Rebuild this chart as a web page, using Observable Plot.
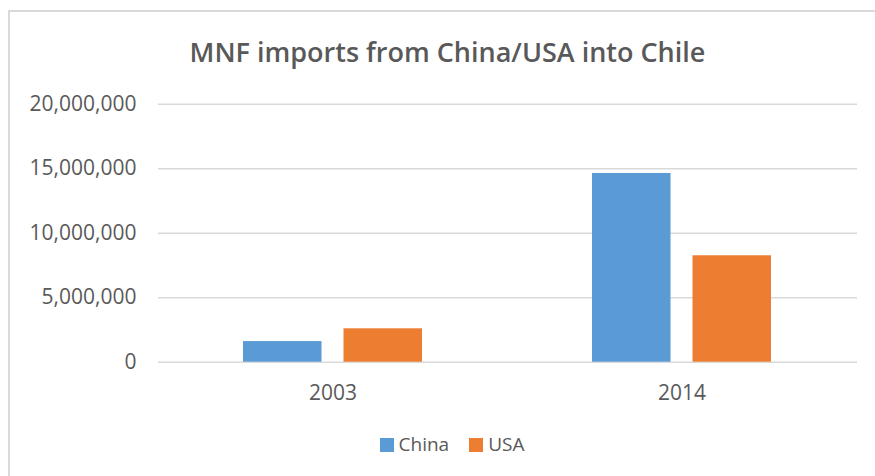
<!DOCTYPE html>
<html>
<head>
<meta charset="utf-8">
<script src="https://cdn.jsdelivr.net/npm/d3@7"></script>
<script src="https://cdn.jsdelivr.net/npm/@observablehq/plot@0.6"></script>
<style>
  html, body { margin: 0; padding: 0; background: #fff; }
  #wrap { position: relative; width: 875px; height: 476px; overflow: hidden; font-family: "Open Sans", sans-serif; color: #595959; }
  #frame { position: absolute; left: 8px; top: 10px; width: 900px; height: 500px; border-left: 2px solid #d9d9d9; border-top: 2px solid #d9d9d9; }
  #title { position: absolute; left: 0; width: 895px; top: 38px; text-align: center; font-size: 27px; font-weight: 600; line-height: 1; }
  #chart { position: absolute; left: 0; top: 85px; }
  #legend { position: absolute; left: 0; width: 904px; top: 435px; display: flex; justify-content: center; align-items: center; font-size: 19px; line-height: 1; }
  .item { display: flex; align-items: center; margin: 0 10px; }
  .sw { width: 14px; height: 14px; margin-right: 5px; }
</style>
</head>
<body>
<div id="wrap">
  <div id="frame"></div>
  <div id="title">MNF imports from China/USA into Chile</div>
  <div id="chart"></div>
  <div id="legend"></div>
</div>
<script>
const years = ["2003", "2014"];
const seriesNames = ["China", "USA"];
const chinaValues = [1600000, 14630000];
const usaValues = [2590000, 8250000];
const yTicks = [0, 5000000, 10000000, 15000000, 20000000];
const colors = ["#5b9bd5", "#ed7d31"];

const chinaRows = years.map((y, i) => ({year: y, series: "China", value: chinaValues[i]}));
const usaRows = years.map((y, i) => ({year: y, series: "USA", value: usaValues[i]}));

const chart = Plot.plot({
  width: 875,
  height: 327,
  marginLeft: 158,
  marginRight: 18,
  marginTop: 18.7,
  marginBottom: 50.3,
  style: {fontFamily: "Open Sans", fontSize: "21px", color: "#595959", background: "transparent", overflow: "visible"},
  x: {domain: years, paddingInner: 0.487, paddingOuter: 0.244, tickSize: 0, tickPadding: 23, label: null},
  y: {domain: [0, 20000000], ticks: yTicks, tickFormat: d3.format(","), tickSize: 0, tickPadding: 22, label: null},
  color: {domain: seriesNames, range: colors},
  marks: [
    Plot.ruleY(yTicks, {stroke: "#d9d9d9", strokeWidth: 1.5}),
    Plot.barY(chinaRows, {x: "year", y: "value", fill: "series", insetRight: 100.5, insetLeft: 0}),
    Plot.barY(usaRows, {x: "year", y: "value", fill: "series", insetLeft: 100.5, insetRight: 0})
  ]
});
document.getElementById("chart").appendChild(chart);

const legend = document.getElementById("legend");
seriesNames.forEach((s, i) => {
  const item = document.createElement("div");
  item.className = "item";
  const sw = document.createElement("div");
  sw.className = "sw";
  sw.style.background = colors[i];
  const t = document.createElement("span");
  t.textContent = s;
  item.appendChild(sw);
  item.appendChild(t);
  legend.appendChild(item);
});
</script>
</body>
</html>
